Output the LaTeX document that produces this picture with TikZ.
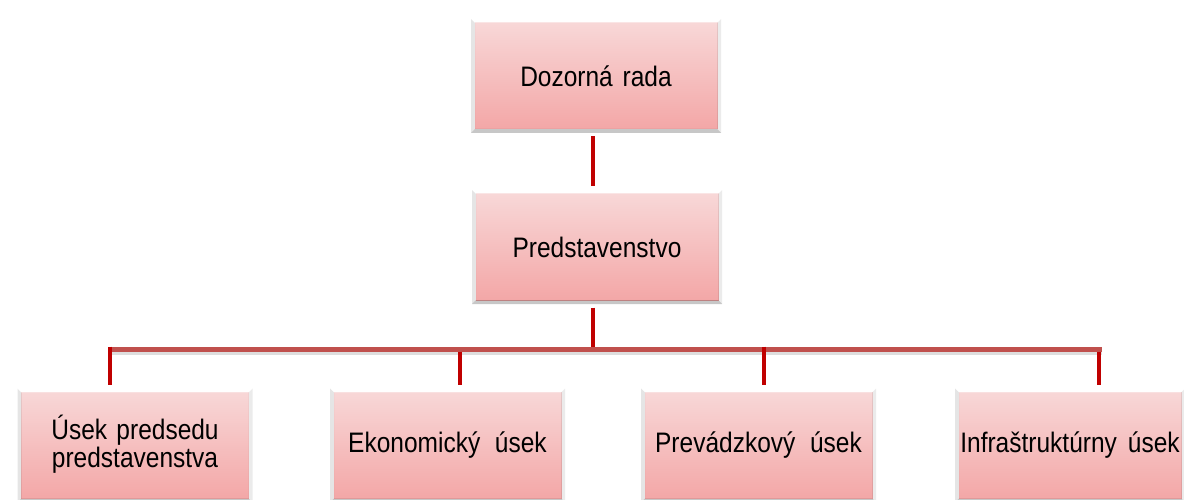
\documentclass[tikz,border=0pt]{standalone}
\usepackage{fontspec}
\setmainfont{Liberation Sans}
\usetikzlibrary{calc,backgrounds}

\definecolor{boxtop}{RGB}{248,217,217}
\definecolor{boxbot}{RGB}{243,165,165}
\definecolor{busred}{RGB}{192,80,77}
\definecolor{linkred}{RGB}{192,0,0}

% text in the boxes is set a little taller than wide
\newcommand\tallt[1]{\scalebox{1}[1.15]{#1}}

\begin{document}
\begin{tikzpicture}[x=1pt,y=-1pt,
  orgbox/.style={draw=white, line width=7pt, top color=boxtop, bottom color=boxbot,
    minimum height=114pt, inner sep=0pt, align=center,
    font=\fontsize{24.5}{23.5}\selectfont},
  link/.style={draw=linkred, line width=4pt},
  bus/.style={draw=busred, line width=5pt}]

\useasboundingbox (0,0) rectangle (1184,500);
\clip (0,0) rectangle (1184,500);
\fill[white] (0,0) rectangle (1184,500);

% boxes
\node[orgbox, minimum width=250pt] (top) at (596,76)  {\tallt{Dozorná\hspace{0.4em}rada}};
\node[orgbox, minimum width=250pt] (mid) at (597,247) {\tallt{Predstavenstvo}};
\node[orgbox, minimum width=235pt] (b1) at (135,445.5)
  {\tallt{\begin{tabular}{@{}c@{}}Úsek\hspace{0.38em}predsedu\\predstavenstva\end{tabular}}};
\node[orgbox, minimum width=235pt] (b2) at (447.5,445.5) {\tallt{Ekonomický\hspace{0.6em}úsek}};
\node[orgbox, minimum width=235pt] (b3) at (758.5,445.5) {\tallt{Prevádzkový\hspace{0.6em}úsek}};
\node[orgbox, minimum width=230pt] (b4) at (1070,445.5) {\tallt{Infraštruktúrny\hspace{0.45em}úsek}};

% soft shadows behind the white frames
\begin{scope}[on background layer]
  \foreach \n in {top,mid,b1,b2,b3,b4}{
    \foreach \s in {1,2.5,4,5.5,7}{
      \fill[black, opacity=0.055, rounded corners=4pt]
        ([xshift={-1pt-\s pt}, yshift={0pt+\s pt}]\n.north west) rectangle
        ([xshift={5pt+\s pt}, yshift={-6.5pt-\s pt}]\n.south east);
    }
  }
\end{scope}

% bevelled edges of the pink faces
\foreach \n in {top,mid,b1,b2,b3,b4}{
  \coordinate (iSW) at ([xshift=3.5pt,yshift=3.5pt]\n.south west);
  \coordinate (iSE) at ([xshift=-3.5pt,yshift=3.5pt]\n.south east);
  \coordinate (iNW) at ([xshift=3.5pt,yshift=-3.5pt]\n.north west);
  \coordinate (iNE) at ([xshift=-3.5pt,yshift=-3.5pt]\n.north east);
  \fill[black, opacity=0.22] (iSW) -- (iSE) -- ([xshift=-4pt,yshift=4pt]iSE)
    -- ([xshift=4pt,yshift=4pt]iSW) -- cycle;
  \fill[black, opacity=0.10] (iSW) -- ([xshift=4pt,yshift=4pt]iSW)
    -- ([xshift=4pt,yshift=-4pt]iNW) -- (iNW) -- cycle;
  \fill[black, opacity=0.08] (iSE) -- ([xshift=-4pt,yshift=4pt]iSE)
    -- ([xshift=-4pt,yshift=-4pt]iNE) -- (iNE) -- cycle;
  \fill[white, opacity=0.35] (iNW) -- (iNE) -- ([xshift=-4pt,yshift=-4pt]iNE)
    -- ([xshift=4pt,yshift=-4pt]iNW) -- cycle;
}

% junctions on the horizontal bus
\coordinate (jm) at (593,349);
\coordinate (j1) at (110,349);
\coordinate (j2) at (460,349);
\coordinate (j3) at (764,349);
\coordinate (j4) at (1099,349);
\coordinate (busL) at (108,349);
\coordinate (busR) at (1102,349);

% connectors
\draw[link] ([xshift=-3pt]top.south) -- ([xshift=-4pt]mid.north);
\draw[bus, draw=black!25, opacity=0.5] ([yshift=-3pt]busL) -- ([yshift=-3pt]busR);
\draw[bus] (busL) -- (busR);
\draw[link] ([xshift=-4pt]mid.south) -- ([yshift=2pt]jm);
\draw[link] ([yshift=2.5pt]j1) -- (j1 |- b1.north);
\draw[link] ([yshift=-2.5pt]j2) -- (j2 |- b2.north);
\draw[link] ([yshift=2.5pt]j3) -- (j3 |- b3.north);
\draw[link] ([yshift=-2.5pt]j4) -- (j4 |- b4.north);
\end{tikzpicture}
\end{document}
